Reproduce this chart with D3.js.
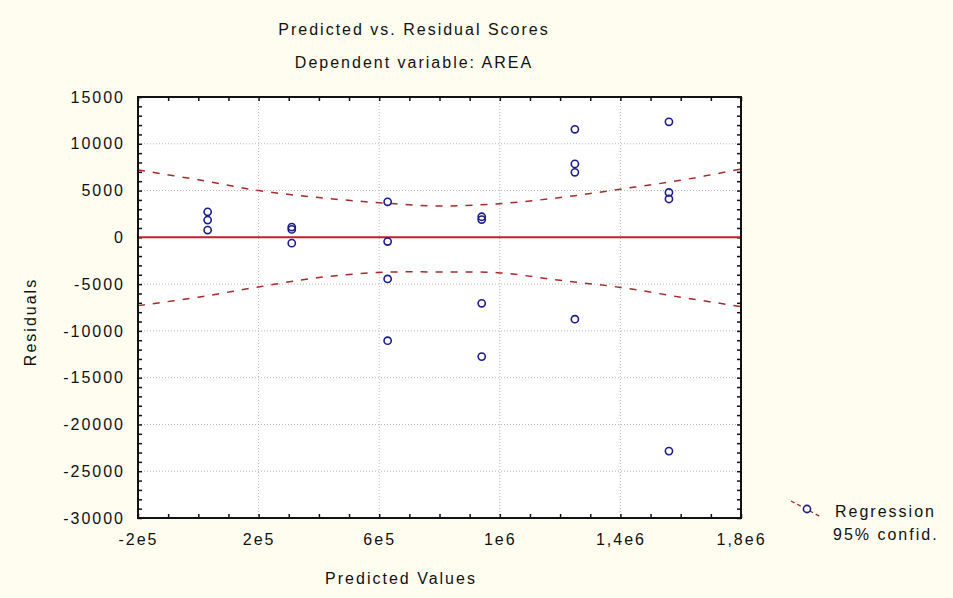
<!DOCTYPE html>
<html>
<head>
<meta charset="utf-8">
<script src="https://cdn.jsdelivr.net/npm/d3@7"></script>
<style>
  html, body { margin: 0; padding: 0; background: #fffdf0; }
  svg { display: block; }
  text { font-family: "Liberation Sans", Arial, sans-serif; fill: #111; }
</style>
</head>
<body>
<svg id="chart" width="953" height="598"></svg>
<script>
// ---- data ----
const predicted = [31000, 31000, 31000,
                   310000, 310000, 310000,
                   628000, 628000, 628000, 628000,
                   940000, 940000, 940000, 940000,
                   1249000, 1249000, 1249000, 1249000,
                   1561000, 1561000, 1561000, 1561000];
const residuals = [2730, 1850, 780,
                   1100, 850, -620,
                   3800, -450, -4450, -11050,
                   2200, 1900, -7050, -12750,
                   11550, 7850, 6950, -8750,
                   12350, 4800, 4100, -22850];
const bandX     = [-200000, 0, 200000, 400000, 600000, 800000, 1000000, 1200000, 1400000, 1600000, 1800000];
const bandUpper = [7200, 6150, 5000, 4250, 3700, 3350, 3600, 4250, 5150, 6100, 7300];
const bandLower = [-7300, -6400, -5300, -4300, -3750, -3700, -3800, -4600, -5350, -6400, -7400];
const xTickValues = [-200000, 200000, 600000, 1000000, 1400000, 1800000];
const xTickLabels = ["-2e5", "2e5", "6e5", "1e6", "1,4e6", "1,8e6"];
const yTickValues = [15000, 10000, 5000, 0, -5000, -10000, -15000, -20000, -25000, -30000];
const yTickLabels = ["15000", "10000", "5000", "0", "-5000", "-10000", "-15000", "-20000", "-25000", "-30000"];
const titleText = "Predicted vs. Residual Scores";
const subtitleText = "Dependent variable: AREA";
const xAxisTitle = "Predicted Values";
const yAxisTitle = "Residuals";
const legendLabels = ["Regression", "95% confid."];

// ---- layout ----
const L = 138, R = 741, T = 97, B = 518;
const svg = d3.select("#chart");
const x = d3.scaleLinear().domain([-200000, 1800000]).range([L, R]);
const y = d3.scaleLinear().domain([-30000, 15000]).range([B, T]);
const FS = 16, LS = "2px";

svg.append("rect").attr("width", 953).attr("height", 598).attr("fill", "#fffdf0");
svg.append("rect").attr("x", L).attr("y", T).attr("width", R - L).attr("height", B - T).attr("fill", "#ffffff");

// grid
const grid = svg.append("g").attr("stroke", "#b8b8b8").attr("stroke-width", 1).attr("stroke-dasharray", "1,2");
grid.selectAll("line.gx").data(xTickValues.filter(v => v > -200000 && v < 1800000)).enter()
  .append("line").attr("x1", d => x(d)).attr("x2", d => x(d)).attr("y1", T).attr("y2", B);
grid.selectAll("line.gy").data(yTickValues.filter(v => v > -30000 && v < 15000 && v !== 0)).enter()
  .append("line").attr("y1", d => y(d)).attr("y2", d => y(d)).attr("x1", L).attr("x2", R);

// minor / major ticks (inward) on all four sides
const minorX = d3.range(-200000, 1800001, 100000);
const minorY = d3.range(-30000, 15001, 1000);
function ticks(axisFn, scale, vals, size, transform) {
  svg.append("g").attr("transform", transform)
    .call(axisFn(scale).tickValues(vals).tickSize(size).tickFormat(""))
    .call(g => g.select(".domain").remove())
    .call(g => g.selectAll("line").attr("stroke", "#111").attr("stroke-width", 1.5));
}
ticks(d3.axisBottom, x, minorX, -4, `translate(0,${B})`);
ticks(d3.axisTop, x, minorX, -4, `translate(0,${T})`);
ticks(d3.axisLeft, y, minorY, -4, `translate(${L},0)`);
ticks(d3.axisRight, y, minorY, -4, `translate(${R},0)`);

// labels via axes
const xAxis = svg.append("g").attr("transform", `translate(0,${B})`)
  .call(d3.axisBottom(x).tickValues(xTickValues).tickSize(0).tickPadding(16)
        .tickFormat((d, i) => xTickLabels[i]));
xAxis.select(".domain").remove();
xAxis.selectAll("text").attr("font-size", FS).style("letter-spacing", LS).attr("fill", "#111")
  .style("font-family", '"Liberation Sans", Arial, sans-serif');

const yAxis = svg.append("g").attr("transform", `translate(${L},0)`)
  .call(d3.axisLeft(y).tickValues(yTickValues).tickSize(0).tickPadding(13)
        .tickFormat((d, i) => yTickLabels[i]));
yAxis.select(".domain").remove();
yAxis.selectAll("text").attr("font-size", FS).style("letter-spacing", LS).attr("fill", "#111")
  .style("font-family", '"Liberation Sans", Arial, sans-serif');

// confidence band
const bandColor = "#a52a2a";
const lineGen = d3.line().x(d => x(d[0])).y(d => y(d[1])).curve(d3.curveCatmullRom);
[bandUpper, bandLower].forEach(arr => {
  svg.append("path").datum(bandX.map((v, i) => [v, arr[i]]))
    .attr("d", lineGen).attr("fill", "none").attr("stroke", bandColor)
    .attr("stroke-width", 1.5).attr("stroke-dasharray", "7,8");
});

// regression line (residual = 0)
svg.append("line").attr("x1", x(-200000)).attr("x2", x(1800000)).attr("y1", y(0)).attr("y2", y(0))
  .attr("stroke", "#c41e2a").attr("stroke-width", 2);

// points
svg.append("g").selectAll("circle").data(predicted.map((p, i) => [p, residuals[i]])).enter()
  .append("circle").attr("cx", d => x(d[0])).attr("cy", d => y(d[1])).attr("r", 3.6)
  .attr("fill", "none").attr("stroke", "#1c1c8c").attr("stroke-width", 1.6);

// frame
svg.append("rect").attr("x", L).attr("y", T).attr("width", R - L).attr("height", B - T)
  .attr("fill", "none").attr("stroke", "#111").attr("stroke-width", 2);

// titles
function txt(s, xx, yy, anchor, extra) {
  const t = svg.append("text").attr("x", xx).attr("y", yy).attr("text-anchor", anchor)
    .attr("font-size", FS).style("letter-spacing", LS).text(s);
  if (extra) extra(t);
  return t;
}
txt(titleText, 414, 35, "middle");
txt(subtitleText, 414, 68, "middle");
txt(xAxisTitle, 401, 584, "middle");
txt(yAxisTitle, 0, 0, "middle", t => t.attr("transform", "translate(36,322) rotate(-90)"));

// legend
svg.append("line").attr("x1", 791).attr("y1", 501).attr("x2", 821).attr("y2", 517)
  .attr("stroke", bandColor).attr("stroke-width", 1.3).attr("stroke-dasharray", "4,3");
svg.append("circle").attr("cx", 807).attr("cy", 509).attr("r", 3.6)
  .attr("fill", "#fffdf0").attr("stroke", "#1c1c8c").attr("stroke-width", 1.6);
txt(legendLabels[0], 835, 517, "start");
txt(legendLabels[1], 833, 540, "start");
</script>
</body>
</html>
